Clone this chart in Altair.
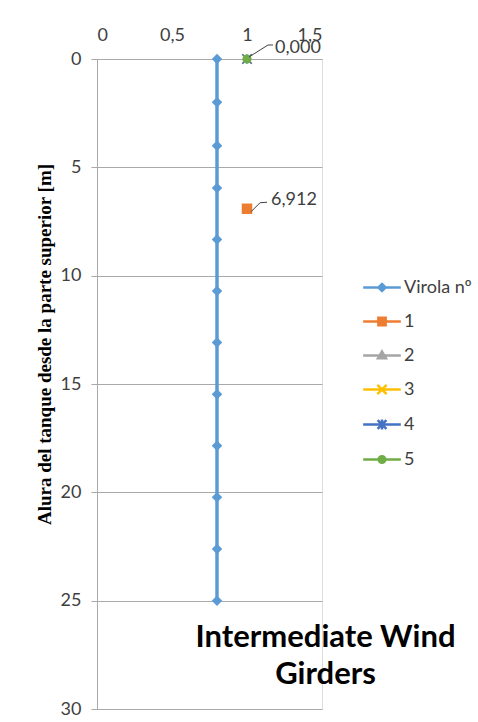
import altair as alt
import pandas as pd

# ---- data ----
series = ["Virola nº", "1", "2", "3", "4", "5"]
colors = ["#5B9BD5", "#ED7D31", "#A5A5A5", "#FFC000", "#4472C4", "#70AD47"]

virola_y = [0, 2, 4, 5.95, 8.33, 10.71, 13.09, 15.47, 17.85, 20.23, 22.61, 25]
virola_x = [0.8] * len(virola_y)

other_series = ["1", "2", "3", "4", "5"]
other_x = [1.0, 1.0, 1.0, 1.0, 1.0]
other_y = [6.912, 0.0, 0.0, 0.0, 0.0]

x_ticks = [0, 0.5, 1, 1.5]
y_ticks = [0, 5, 10, 15, 20, 25, 30]

rows = [{"serie": "Virola nº", "x": xv, "y": yv} for xv, yv in zip(virola_x, virola_y)]
rows += [{"serie": s, "x": xv, "y": yv} for s, xv, yv in zip(other_series, other_x, other_y)]
df = pd.DataFrame(rows)

FONT = "Lato"
GRAY = "#A9A9A9"
TXT = "#404040"

x_enc = alt.X(
    "x:Q",
    scale=alt.Scale(domain=[0, 1.5], nice=False, zero=False),
    axis=alt.Axis(
        orient="top", values=x_ticks, title=None, grid=False, ticks=False,
        labelExpr="replace(format(datum.value, '~g'), '.', ',')",
        labelFont=FONT, labelFontSize=18, labelColor=TXT, labelPadding=15,
        domainColor=GRAY, domainWidth=1,
    ),
)
y_enc = alt.Y(
    "y:Q",
    scale=alt.Scale(domain=[0, 30], reverse=True, nice=False, zero=False),
    axis=alt.Axis(
        values=y_ticks, title="Alura del tanque desde la parte superior [m]",
        grid=True, gridColor=GRAY, gridWidth=1,
        ticks=True, tickSize=6, tickColor=GRAY,
        domainColor=GRAY, domainWidth=1,
        labelFont=FONT, labelFontSize=18, labelColor=TXT, labelPadding=10,
        titleFont="Liberation Serif", titleFontSize=19, titleFontWeight="bold",
        titleColor="black", titleX=-53, titleY=285, titleAngle=270,
        titleBaseline="middle", titleAlign="center",
    ),
)

base = alt.Chart(df)

# line of the shell (Virola)
line = base.transform_filter(alt.datum.serie == "Virola nº").mark_line(
    color=colors[0], strokeWidth=3.5
).encode(x=x_enc, y=y_enc)

marker_shapes = {
    "Virola nº": ("diamond", True, 110),
    "1": ("square", True, 110),
    "2": ("triangle-up", True, 90),
    "3": ("M-1,-1L1,1M-1,1L1,-1", False, 90),
    "4": ("M-1,-1L1,1M-1,1L1,-1M0,-1L0,1", False, 90),
    "5": ("circle", True, 85),
}

point_layers = []
for s, c in zip(series, colors):
    shp, filled, sz = marker_shapes[s]
    point_layers.append(
        base.transform_filter(alt.datum.serie == s).mark_point(
            shape=shp, filled=filled, size=sz, color=c, opacity=1, strokeWidth=1.5
        ).encode(x=x_enc, y=y_enc)
    )

# data labels with leader lines
lab_expr = "replace(format(datum.y, '.3f'), '.', ',')"

lab1 = base.transform_filter(alt.datum.serie == "1").transform_calculate(lbl=lab_expr)
lab5 = base.transform_filter(alt.datum.serie == "5").transform_calculate(lbl=lab_expr)

def leader(src, a, b, c):
    seg1 = src.mark_rule(
        color="#404040", strokeWidth=1,
        xOffset=a[0], yOffset=a[1], x2Offset=b[0], y2Offset=b[1],
    ).encode(x=x_enc, y=y_enc, x2="x:Q", y2="y:Q")
    seg2 = src.mark_rule(
        color="#404040", strokeWidth=1,
        xOffset=b[0], yOffset=b[1], x2Offset=c[0], y2Offset=c[1],
    ).encode(x=x_enc, y=y_enc, x2="x:Q", y2="y:Q")
    return [seg1, seg2]

txt1 = lab1.mark_text(
    align="left", baseline="middle", dx=24, dy=-8.5,
    font=FONT, fontSize=18, color=TXT,
).encode(x=x_enc, y=y_enc, text="lbl:N")
txt5 = lab5.mark_text(
    align="left", baseline="middle", dx=28, dy=-11,
    font=FONT, fontSize=18, color=TXT,
).encode(x=x_enc, y=y_enc, text="lbl:N")

leaders = leader(lab1, (4, 3), (13, -6), (20, -6.5)) + leader(lab5, (2, -2), (21, -14), (26, -14))

# legend (line + marker symbols), built from the series list
u = "1.71"
legend_paths = [
    f"M-{u},0L{u},0M0,-0.32L0.32,0L0,0.32L-0.32,0Z",
    f"M-{u},0L{u},0M-0.33,-0.33L0.33,-0.33L0.33,0.33L-0.33,0.33Z",
    f"M-{u},0L{u},0M0,-0.36L0.36,0.26L-0.36,0.26Z",
    f"M-{u},0L{u},0M-0.42,-0.42L0.42,0.42M-0.42,0.42L0.42,-0.42",
    f"M-{u},0L{u},0M-0.4,-0.4L0.4,0.4M-0.4,0.4L0.4,-0.4M0,-0.45L0,0.45",
    f"M-{u},0L{u},0M-0.3,0A0.3,0.3 0 1,0 0.3,0A0.3,0.3 0 1,0 -0.3,0Z",
]
leg = alt.Legend(
    title=None, orient="none", legendX=272.5, legendY=216,
    symbolSize=484, symbolStrokeWidth=2.5, symbolOpacity=1,
    labelFont=FONT, labelFontSize=18, labelColor=TXT, labelOffset=9.5,
    rowPadding=12, padding=0,
)
col_scale = alt.Scale(domain=series, range=colors)
legend_layer = base.transform_filter("false").mark_point(
    opacity=1, strokeWidth=2.5, size=484
).encode(
    x=x_enc, y=y_enc,
    fill=alt.Fill("serie:N", scale=col_scale, legend=leg),
    stroke=alt.Stroke("serie:N", scale=col_scale, legend=leg),
    shape=alt.Shape("serie:N", scale=alt.Scale(domain=series, range=legend_paths), legend=leg),
)

chart = alt.layer(
    line, *point_layers, *leaders, txt1, txt5, legend_layer
).properties(
    width=225, height=650,
    padding={"left": 97, "top": 59, "right": 156, "bottom": 13},
    autosize=alt.AutoSizeParams(type="none"),
    title=alt.TitleParams(
        text=["Intermediate Wind", "Girders"], orient="bottom", anchor="middle",
        frame="group", font=FONT, fontSize=31, fontWeight="bold", color="black",
        offset=-95, dx=116, lineHeight=37,
    ),
).configure_view(strokeWidth=0).configure(background="white")

chart.save("out.html", embed_options={"renderer": "svg", "actions": False})
